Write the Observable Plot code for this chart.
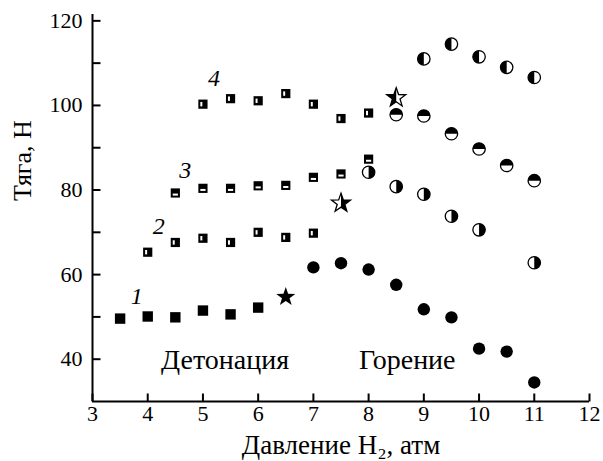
<!DOCTYPE html>
<html><head><meta charset="utf-8">
<script src="https://cdn.jsdelivr.net/npm/d3@7"></script>
<script src="https://cdn.jsdelivr.net/npm/@observablehq/plot@0.6"></script>
<style>body{margin:0;background:#fff}</style>
</head><body><div id="chart"></div>
<script>
// Axes
const xDomain = [3, 12];
const yDomain = [30, 121.5];
const xTicks = [3, 4, 5, 6, 7, 8, 9, 10, 11, 12];
const yTickLabels = [40, 60, 80, 100, 120];
const yTicksAll = [40, 50, 60, 70, 80, 90, 100, 110, 120];

// Series 1 (filled)
const s1SqX = [3.5, 4, 4.5, 5, 5.5, 6];
const s1SqY = [49.6, 50.1, 49.9, 51.5, 50.6, 52.2];
const s1StarX = [6.5];
const s1StarY = [54.7];
const s1CircX = [7, 7.5, 8, 8.5, 9, 9.5, 10, 10.5, 11];
const s1CircY = [61.7, 62.7, 61.2, 57.6, 51.8, 49.9, 42.5, 41.8, 34.5];

// Series 2
const s2SqX = [4, 4.5, 5, 5.5, 6, 6.5, 7];
const s2SqY = [65.3, 67.6, 68.6, 67.6, 70.0, 68.8, 69.8];
const s2StarX = [7.5];
const s2StarY = [76.9];
const s2CircX = [8, 8.5, 9, 9.5, 10, 11];
const s2CircY = [84.2, 80.8, 79.0, 73.8, 70.6, 62.8];

// Series 3
const s3SqX = [4.5, 5, 5.5, 6, 6.5, 7, 7.5, 8];
const s3SqY = [79.3, 80.4, 80.4, 81.0, 81.1, 83.0, 83.8, 87.3];
const s3CircX = [8.5, 9, 9.5, 10, 10.5, 11];
const s3CircY = [97.8, 97.5, 93.3, 89.7, 85.8, 82.2];

// Series 4
const s4SqX = [5, 5.5, 6, 6.5, 7, 7.5, 8];
const s4SqY = [100.3, 101.6, 101.1, 102.8, 100.3, 96.9, 98.2];
const s4StarX = [8.5];
const s4StarY = [101.8];
const s4CircX = [9, 9.5, 10, 10.5, 11];
const s4CircY = [111.0, 114.5, 111.5, 109.0, 106.6];

// Annotations
const seriesNames = ["1", "2", "3", "4"];
const seriesNameX = [3.8, 4.2, 4.68, 5.2];
const seriesNameY = [54.8, 71.4, 84.6, 106.3];
const regionNames = ["Детонация", "Горение"];
const regionX = [5.4, 8.7];
const regionY = [39.9, 39.9];
const yLabel = "Тяга, Н";
const xLabel = "Давление H₂, атм";

const pts = (X, Y) => X.map((x, i) => ({x, y: Y[i]}));
const tbl = (N, X, Y) => N.map((t, i) => ({t, x: X[i], y: Y[i]}));

// custom symbols
const poly = (c, P) => { c.moveTo(P[0][0], P[0][1]); for (let i = 1; i < P.length; i++) c.lineTo(P[i][0], P[i][1]); c.closePath(); };
const rectSym = (x0, y0, x1, y1) => ({draw(c) { poly(c, [[x0,y0],[x1,y0],[x1,y1],[x0,y1]]); }});
const sqBig = rectSym(-5.2, -5.2, 5.2, 5.2);
const sqSmall = rectSym(-4.6, -4.6, 4.6, 4.6);
const vBar = rectSym(-2.6, -2.2, -0.6, 2.2);
const hBar = rectSym(-2.6, 0.6, 2.6, 2.6);
const R = 6.2;
const circ = {draw(c) { c.moveTo(R, 0); c.arc(0, 0, R, 0, 2 * Math.PI); c.closePath(); }};
const halfRight = {draw(c) { c.moveTo(0, -R); c.arc(0, 0, R, -Math.PI / 2, Math.PI / 2); c.closePath(); }};
const halfLeft = {draw(c) { c.moveTo(0, R); c.arc(0, 0, R, Math.PI / 2, 3 * Math.PI / 2); c.closePath(); }};
const halfTop = {draw(c) { c.moveTo(-R, 0); c.arc(0, 0, R, Math.PI, 2 * Math.PI); c.closePath(); }};
const SR = 10, SRi = 4.0;
const starP = d3.range(10).map(k => { const a = -Math.PI / 2 + k * Math.PI / 5; const r = k % 2 ? SRi : SR; return [r * Math.cos(a), r * Math.sin(a)]; });
const starFull = {draw(c) { poly(c, starP); }};
const starRight = {draw(c) { poly(c, starP.slice(0, 6)); }};
const starLeft = {draw(c) { poly(c, [...starP.slice(5), starP[0]]); }};
const tickRight = {draw(c) { c.moveTo(0, 0); c.lineTo(8, 0); }};
const tickUp = {draw(c) { c.moveTo(0, 0); c.lineTo(0, -8); }};

const dotM = (data, symbol, opts = {}) => Plot.dot(data, {x: "x", y: "y", symbol, r: 5, fill: "black", ...opts});
const outlineCirc = (data) => dotM(data, circ, {fill: "white", stroke: "black", strokeWidth: 1.3});

const S1sq = pts(s1SqX, s1SqY), S1st = pts(s1StarX, s1StarY), S1c = pts(s1CircX, s1CircY);
const S2sq = pts(s2SqX, s2SqY), S2st = pts(s2StarX, s2StarY), S2c = pts(s2CircX, s2CircY);
const S3sq = pts(s3SqX, s3SqY), S3c = pts(s3CircX, s3CircY);
const S4sq = pts(s4SqX, s4SqY), S4st = pts(s4StarX, s4StarY), S4c = pts(s4CircX, s4CircY);

const font = "'Liberation Serif', 'Times New Roman', serif";

const plot = Plot.plot({
  width: 603, height: 461,
  marginLeft: 92, marginRight: 14, marginTop: 14, marginBottom: 60,
  x: {domain: xDomain},
  y: {domain: yDomain},
  style: {fontFamily: font, fontSize: "22px", background: "white", color: "black"},
  marks: [
    Plot.axisX({ticks: xTicks, tickSize: 0, tickPadding: 4, tickFormat: d => String(d), label: null, fontSize: 22}),
    Plot.axisY({ticks: yTickLabels, tickSize: 0, tickPadding: 10, tickFormat: d => String(d), label: null, fontSize: 22}),
    Plot.ruleX([xDomain[0]], {strokeWidth: 2}),
    Plot.ruleY([yDomain[0]], {strokeWidth: 2}),
    Plot.dot(xTicks, {x: d => d, y: () => yDomain[0], symbol: tickUp, r: 5, stroke: "black", strokeWidth: 2, fill: "none"}),
    Plot.dot(yTicksAll, {x: () => xDomain[0], y: d => d, symbol: tickRight, r: 5, stroke: "black", strokeWidth: 2, fill: "none"}),
    // series 1
    dotM(S1sq, sqBig),
    dotM(S1st, starFull),
    dotM(S1c, circ),
    // series 2
    dotM(S2sq, sqSmall),
    dotM(S2sq, vBar, {fill: "white"}),
    dotM(S2st, starFull, {fill: "white", stroke: "black", strokeWidth: 1.3}),
    dotM(S2st, starRight),
    outlineCirc(S2c),
    dotM(S2c, halfRight),
    // series 3
    dotM(S3sq, sqSmall),
    dotM(S3sq, hBar, {fill: "white"}),
    outlineCirc(S3c),
    dotM(S3c, halfTop),
    // series 4
    dotM(S4sq, sqSmall),
    dotM(S4sq, vBar, {fill: "white"}),
    dotM(S4st, starFull, {fill: "white", stroke: "black", strokeWidth: 1.3}),
    dotM(S4st, starLeft),
    outlineCirc(S4c),
    dotM(S4c, halfLeft),
    // text
    Plot.text(tbl(seriesNames, seriesNameX, seriesNameY), {x: "x", y: "y", text: "t", fontStyle: "italic", fontSize: 24}),
    Plot.text(tbl(regionNames, regionX, regionY), {x: "x", y: "y", text: "t", fontSize: 28}),
    Plot.text([yLabel], {frameAnchor: "left", rotate: -90, dx: -70, dy: -7, fontSize: 26}),
    Plot.text([xLabel], {frameAnchor: "bottom", lineAnchor: "middle", dy: 44, fontSize: 27})
  ]
});
document.getElementById("chart").appendChild(plot);
</script>
</body></html>
